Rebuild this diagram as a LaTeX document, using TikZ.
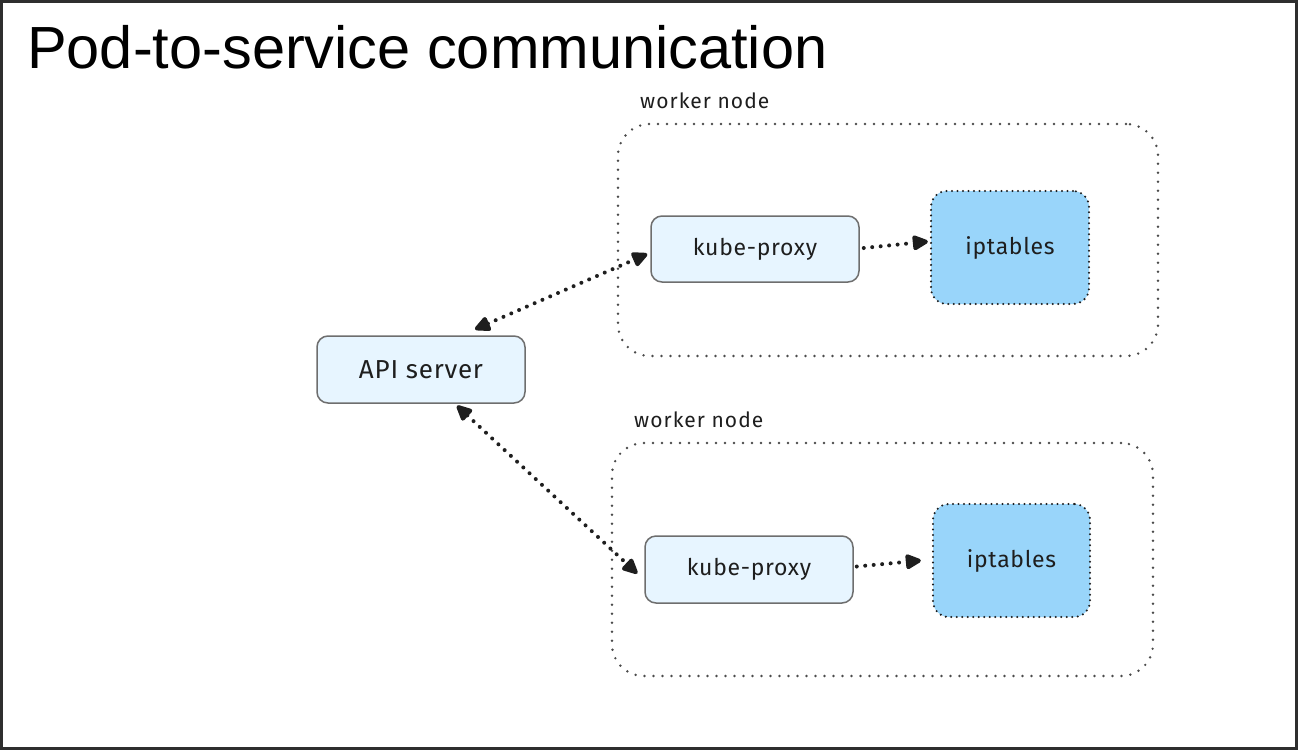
\documentclass[tikz,border=0pt]{standalone}
\usepackage{fontspec}
\setmainfont{Liberation Sans}
\newfontfamily\hand[LetterSpace=3]{Fira Sans}
\newfontfamily\handlab[LetterSpace=5]{Fira Sans}
\usetikzlibrary{arrows.meta,calc}
\definecolor{ink}{HTML}{1E1E1E}
\definecolor{lightfill}{HTML}{E7F5FF}
\definecolor{ipfill}{HTML}{99D5FA}
\definecolor{boxline}{HTML}{6E6E6E}
\definecolor{frameline}{HTML}{2E2E2E}
\tikzset{
  proxybox/.style={draw=boxline, line width=1.5pt, fill=lightfill, rounded corners=11pt,
    minimum width=208pt, minimum height=66pt, inner sep=0pt, text=ink,
    font=\hand\fontsize{23}{26}\selectfont},
  ipbox/.style={draw=ink, line width=2.3pt, dash pattern=on 0pt off 5.5pt, line cap=round,
    fill=ipfill, rounded corners=16pt, minimum width=158pt, minimum height=113pt,
    inner sep=0pt, text=ink, font=\hand\fontsize{23}{26}\selectfont},
  workerbox/.style={draw=ink!80, line width=2.7pt, dash pattern=on 0pt off 9pt, line cap=round,
    rounded corners=32pt, minimum width=540pt, minimum height=232pt, inner sep=0pt},
  wlabel/.style={anchor=west, inner sep=0pt, text=ink, font=\handlab\fontsize{21}{24}\selectfont},
  conn/.style={draw=ink, line width=4pt, dash pattern=on 0pt off 8.5pt, line cap=round,
    {Triangle[length=18pt,width=16pt,round]}-{Triangle[length=18pt,width=16pt,round]}},
  oneway/.style={draw=ink, line width=4pt, dash pattern=on 0pt off 8.5pt, line cap=round,
    -{Triangle[length=18pt,width=16pt,round]}},
}
\begin{document}
\begin{tikzpicture}[x=1pt,y=-1pt]
\useasboundingbox (0,0) rectangle (1298,750);
\fill[white] (0,0) rectangle (1298,750);
\draw[frameline, line width=2.5pt] (1.25,1.25) rectangle (1296.5,748.5);

\node[anchor=base west, inner sep=0pt, text=black, font=\fontsize{59.5}{62}\selectfont] (title) at (27,68) {Pod-to-service communication};

% worker node 1
\node[workerbox] (w1) at (888,240) {};
\node[wlabel] (w1l) at (640,101) {worker node};
\node[proxybox] (kp1) at (755,249) {kube-proxy};
\node[ipbox] (ip1) at (1010,247.5) {iptables};

% worker node 2
\node[workerbox, minimum width=541pt, minimum height=233pt] (w2) at (882.5,559.5) {};
\node[wlabel] (w2l) at (634,420) {worker node};
\node[proxybox, minimum height=67pt] (kp2) at (749,569.5) {kube-proxy};
\node[ipbox, minimum width=157pt] (ip2) at (1011.5,560.5) {iptables};

% API server
\node[proxybox, minimum height=67pt, font=\hand\fontsize{26}{28}\selectfont] (api) at (421,369.5) {API server};

% connectors
\draw[conn] ([xshift=54pt,yshift=6pt]api.north) -- ([xshift=-3pt,yshift=-5pt]kp1.west);
\draw[conn] ([xshift=36pt,yshift=-2pt]api.south) -- ([xshift=-7pt,yshift=-4pt]kp2.west);
\draw[oneway] ([xshift=4pt,yshift=1pt]kp1.east) -- ([xshift=-2pt,yshift=6pt]ip1.west);
\draw[oneway] ([xshift=3pt,yshift=3pt]kp2.east) -- ([xshift=-11pt]ip2.west);
\end{tikzpicture}
\end{document}
